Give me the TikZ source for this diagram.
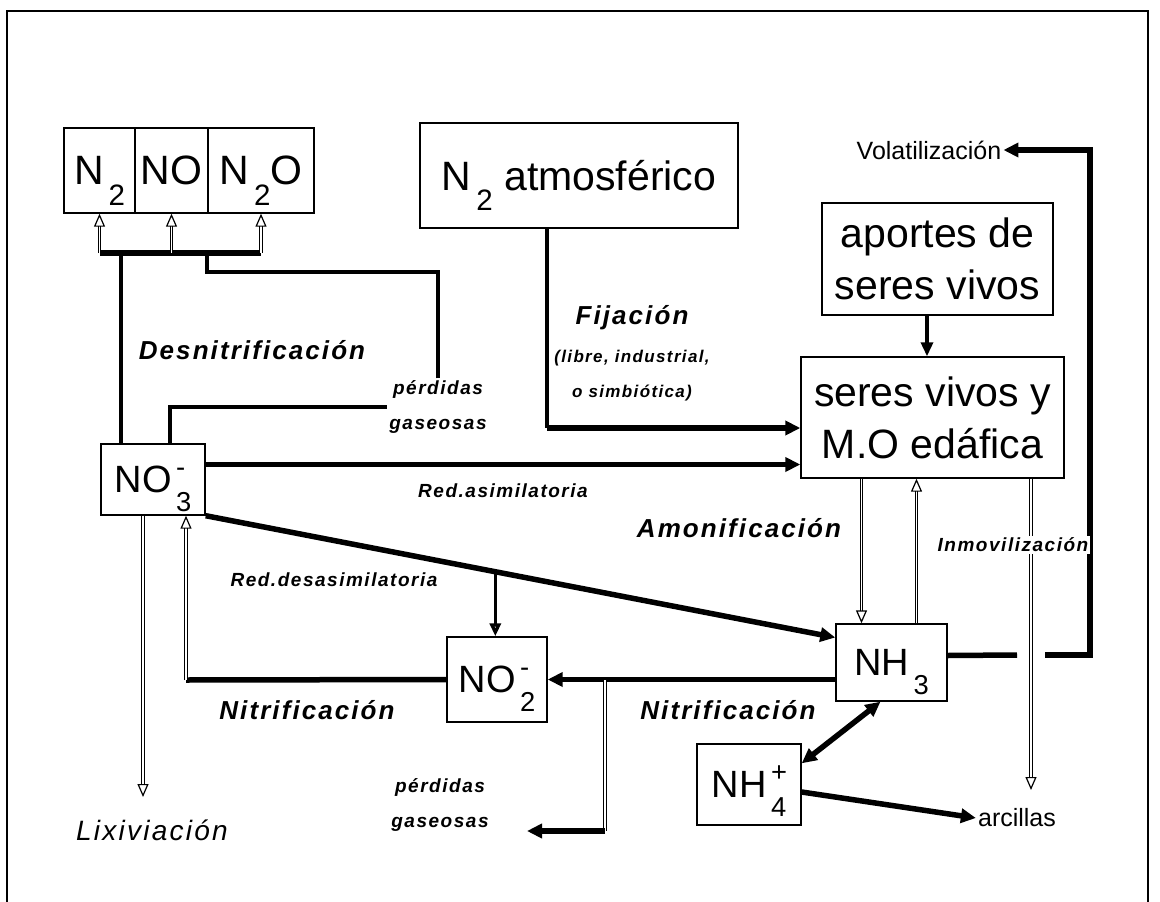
\documentclass[tikz,border=0pt]{standalone}
\usepackage{graphicx}
\usepackage{fontspec}
\setmainfont{Liberation Sans}
\newfontfamily\spacedfont[LetterSpace=8]{Liberation Sans}
\usetikzlibrary{arrows.meta}
\newcommand\lowsub[1]{\kern0.12em\raisebox{-0.5em}[0pt][0pt]{\scalebox{0.72}{#1}}}
\newcommand\chemion[2]{\kern0.12em\rlap{\raisebox{0.42em}[0pt][0pt]{\scalebox{0.72}{#2}}}\raisebox{-0.5em}[0pt][0pt]{\scalebox{0.72}{#1}}}

\begin{document}
\begin{tikzpicture}[x=1pt, y=-1pt,
  box/.style={draw, line width=1.4pt, inner sep=0pt, align=center,
              font=\fontsize{41}{52}\selectfont},
  ionbox/.style={box, font=\fontsize{38}{44}\selectfont},
  proc/.style={font=\spacedfont\bfseries\itshape\fontsize{26}{30}\selectfont, inner sep=2pt},
  note/.style={font=\spacedfont\bfseries\itshape\fontsize{19}{35}\selectfont,
               inner sep=2pt, align=center},
  plain/.style={font=\fontsize{25}{30}\selectfont, inner sep=2pt},
  bar/.style={line width=5.5pt},
  stem/.style={line width=3.3pt},
  flow/.style={line width=5.5pt, -{Triangle[length=15pt, width=14pt]}},
  midflow/.style={line width=3.3pt, -{Triangle[length=14pt, width=12pt]}},
  twin/.style={double, double distance=1.5pt, line width=1.2pt},
  pipe/.style={twin, -{Triangle[open, length=13pt, width=11pt]}}
]
  \useasboundingbox (0,0) rectangle (1160,902);
  % Frame
  \draw[line width=1.5pt] (7,902) -- (7,11) -- (1148,11) -- (1148,902);

  % Gases
  \node[box, minimum width=71pt, minimum height=85pt] (n2) at (99.5,170.5) {N\lowsub{2}};
  \node[box, minimum width=73pt, minimum height=85pt] (no) at (171.5,170.5) {NO};
  \node[box, minimum width=106pt, minimum height=85pt] (n2o) at (261,170.5) {N\lowsub{2}O};

  % Boxes
  \node[box, minimum width=318pt, minimum height=105pt] (atm) at (579,175.5)
    {N\lowsub{2}\ atmosférico};
  \node[box, minimum width=231pt, minimum height=112pt] (aportes) at (937.5,259)
    {aportes de\\seres vivos};
  \node[box, minimum width=263pt, minimum height=121pt] (seres) at (932.5,417.5)
    {seres vivos y\\M.O edáfica};
  \node[ionbox, minimum width=104pt, minimum height=71pt] (no3) at (153,479.5)
    {NO\chemion{3}{-}};
  \node[ionbox, minimum width=100pt, minimum height=85pt] (no2) at (497,679.5)
    {NO\chemion{2}{-}};
  \node[ionbox, minimum width=111pt, minimum height=77pt] (nh3) at (891.5,662.5)
    {NH\lowsub{3}};
  \node[ionbox, minimum width=104pt, minimum height=81pt] (nh4) at (749,784.5)
    {NH\chemion{4}{+}};

  % Labels
  \node[proc] (desn) at (252,350) {Desnitrificación};
  \node[proc] (fij) at (632,318) {Fijación};
  \node[note, font=\spacedfont\bfseries\itshape\fontsize{17}{35}\selectfont] (fijnote)
    at (632,376) {(libre, industrial,\\o simbiótica)};
  \node[note] (gasup) at (438,407) {pérdidas\\gaseosas};
  \node[note] (rasim) at (503,491) {Red.asimilatoria};
  \node[note] (rdesa) at (334,580) {Red.desasimilatoria};
  \node[proc] (amon) at (739,528) {Amonificación};
  \node[proc] (nitl) at (307,710) {Nitrificación};
  \node[proc] (nitr) at (728,710) {Nitrificación};
  \node[proc, font=\spacedfont\itshape\fontsize{28}{30}\selectfont] (lix) at (152,830) {Lixiviación};
  \node[note] (gaslow) at (440,805) {pérdidas\\gaseosas};
  \node[plain] (volat) at (929,150) {Volatilización};
  \node[plain] (arc) at (1017,818) {arcillas};

  \coordinate (man) at (0,253);
  \coordinate (kink) at (207,272);
  \coordinate (fixk) at (547,428);
  \coordinate (nitc) at (186,680);
  \coordinate (drop) at (605,680);
  \coordinate (lowc) at (605,831);
  \coordinate (lowtip) at (527,831);
  \coordinate (gapL) at (1017,655);
  \coordinate (gapR) at (1045,655);
  \coordinate (voltop) at (1090,150);

  % Desnitrificacion
  \draw[stem] ([xshift=-32pt]no3.north) -- ([xshift=-32pt]no3.north |- man);
  \draw[bar] (n2.south |- man) -- (n2o.south |- man);
  \draw[pipe] (n2.south |- man) -- (n2.south);
  \draw[pipe] (no.south |- man) -- (no.south);
  \draw[pipe] (n2o.south |- man) -- (n2o.south);
  \draw[stem] ([xshift=17pt]no3.north) |- (gasup.west);
  \draw[stem] (gasup.north) |- (kink) -- (kink |- man);

  % Fijacion y aportes
  \draw[stem] (atm.south -| fixk) -- (fixk);
  \draw[flow] (fixk) -- (fixk -| seres.west);
  \draw[midflow] ([xshift=-10.5pt]aportes.south) -- ([xshift=-10.5pt]aportes.south |- seres.north);

  % Reducciones
  \draw[flow] ([yshift=15pt]no3.east) -- ([yshift=15pt]no3.east -| seres.west);
  \draw[flow] (no3.south east) -- ([yshift=25pt]nh3.west)
    coordinate[pos=0.46] (split);
  \draw[stem, -{Triangle[open, length=13pt, width=11pt]}] (split) -- (split |- no2.north);

  % Nitrificacion
  \draw[flow] (nh3.west |- no2.east) -- (no2.east);
  \draw[bar] (no2.west) -- (nitc);
  \draw[pipe] (nitc) -- (nitc |- no3.south);
  \draw[twin] (drop) -- (lowc);
  \draw[flow] (lowc) -- (lowtip);

  % Lixiviacion
  \draw[pipe] ([xshift=-10pt]no3.south) -- ([xshift=-10pt]no3.south |- 0,797);

  % Amonificacion e inmovilizacion
  \draw[pipe] ([xshift=-30pt]nh3.north |- seres.south) -- ([xshift=-30pt]nh3.north);
  \draw[pipe] ([xshift=25pt]nh3.north) -- ([xshift=25pt]nh3.north |- seres.south);
  \draw[pipe] ([xshift=98.5pt]seres.south) -- ([xshift=98.5pt]seres.south |- 0,790);

  % Volatilizacion
  \draw[bar] ([yshift=7pt]nh3.east) -- (gapL);
  \draw[flow] (gapR) -| (voltop) -- (volat.east);
  \node[note, fill=white] (inmov) at (1013,545) {Inmovilización};

  % Amonio
  \draw[flow, {Triangle[length=15pt, width=14pt]}-{Triangle[length=15pt, width=14pt]}]
    ([xshift=-11pt]nh3.south) -- ([yshift=-20pt]nh4.north east);
  \draw[flow] ([yshift=-7.5pt]nh4.east) -- (arc.west);
\end{tikzpicture}
\end{document}
